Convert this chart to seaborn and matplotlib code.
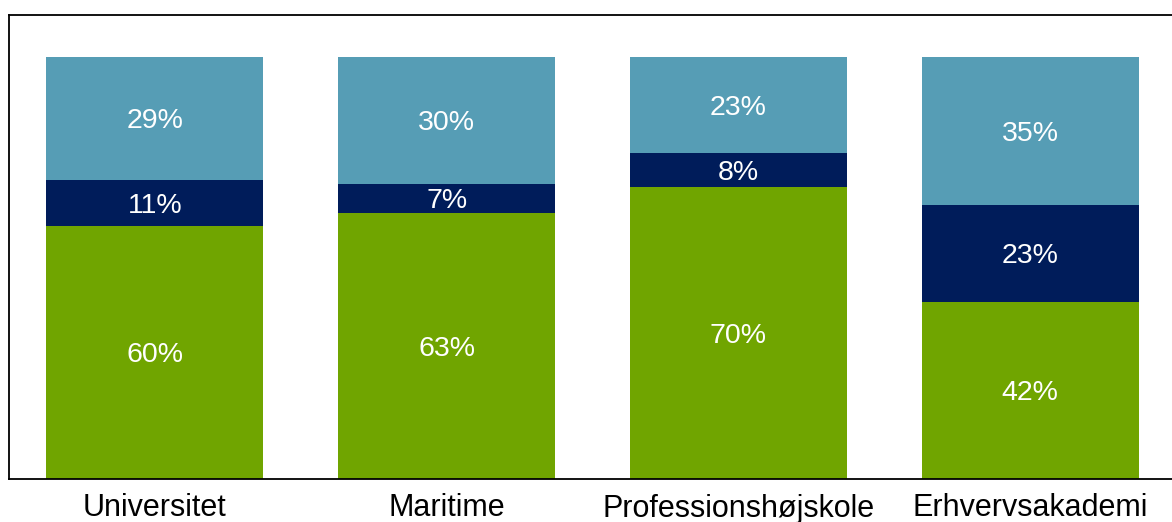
import matplotlib
matplotlib.use("Agg")
import matplotlib.pyplot as plt
import seaborn as sns
import pandas as pd
import numpy as np

categories = ["Universitet", "Maritime", "Professionshøjskole", "Erhvervsakademi"]
green_vals = [60, 63, 70, 42]
navy_vals = [11, 7, 8, 23]
light_vals = [29, 30, 23, 35]

GREEN = "#70a500"
NAVY = "#001c5a"
LIGHT = "#569db5"

sns.set_theme(style="white")
plt.rcParams["font.family"] = ["Liberation Sans", "DejaVu Sans"]

g = np.array(green_vals, float)
n = np.array(navy_vals, float)
l = np.array(light_vals, float)
tot = g + n + l
gs, ns, ls = g / tot * 100, n / tot * 100, l / tot * 100

df = pd.DataFrame({
    "cat": categories,
    "top": gs + ns + ls,
    "mid": gs + ns,
    "low": gs,
})

fig = plt.figure(figsize=(11.72, 5.22), dpi=100)
ax = fig.add_axes([9 / 1172, 1 - 479 / 522, (1176 - 9) / 1172, (479 - 15) / 522])

w = 0.744
sns.barplot(data=df, x="cat", y="top", order=categories, color=LIGHT, width=w,
            saturation=1, ax=ax, edgecolor="none")
sns.barplot(data=df, x="cat", y="mid", order=categories, color=NAVY, width=w,
            saturation=1, ax=ax, edgecolor="none")
sns.barplot(data=df, x="cat", y="low", order=categories, color=GREEN, width=w,
            saturation=1, ax=ax, edgecolor="none")

fs = 20.5
for i in range(len(categories)):
    ax.text(i, gs[i] / 2, f"{green_vals[i]}%", ha="center", va="center_baseline",
            color="white", fontsize=fs)
    ax.text(i, gs[i] + ns[i] / 2, f"{navy_vals[i]}%", ha="center", va="center_baseline",
            color="white", fontsize=fs)
    ax.text(i, gs[i] + ns[i] + ls[i] / 2, f"{light_vals[i]}%", ha="center",
            va="center_baseline", color="white", fontsize=fs)

ax.set_xlim(-0.5, 3.5)
ax.set_ylim(0, 110)
ax.set_xlabel("")
ax.set_ylabel("")
ax.set_yticks([])
ax.tick_params(axis="x", length=0, pad=27, labelsize=22, colors="black")
for lab in ax.get_xticklabels():
    lab.set_verticalalignment("baseline")
for s in ["left", "top", "bottom"]:
    ax.spines[s].set_visible(True)
    ax.spines[s].set_color("black")
    ax.spines[s].set_linewidth(1.3)
ax.spines["right"].set_visible(False)

fig.savefig("out.png", dpi=100)
